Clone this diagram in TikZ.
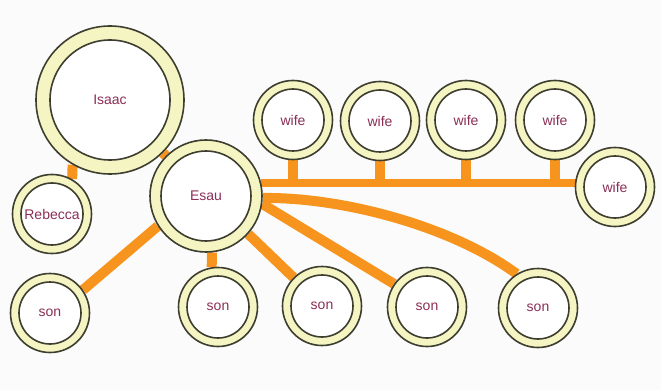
\documentclass[tikz,border=0pt]{standalone}
\usepackage{fontspec}
\setmainfont{Liberation Sans}
\pgfdeclarelayer{paperlayer}
\pgfdeclarelayer{links}
\pgfsetlayers{paperlayer,links,main}
\definecolor{ringfill}{HTML}{F5F5C4}
\definecolor{ringline}{HTML}{3E3E30}
\definecolor{linkorange}{HTML}{F7941D}
\definecolor{namecol}{HTML}{8B2F55}
\definecolor{paper}{HTML}{FBFBFB}
\tikzset{
  % a person: pale ring between two dark circles; #1 outer radius, #2 inner radius
  person/.style 2 args={circle, draw=ringline, line width=1.6pt, fill=ringfill,
    minimum size={2*#1pt}, inner sep=0pt, text=namecol,
    font=\fontsize{14}{16}\selectfont,
    path picture={\draw[ringline, line width=1.6pt, fill=white]
      (path picture bounding box.center) circle[radius=#2pt];}},
  small/.style={person={39.5}{31}},
  link/.style={draw=linkorange, line width=10pt},
  barlink/.style={draw=linkorange, line width=8pt},
}
\begin{document}
\begin{tikzpicture}[x=1pt,y=-1pt]
\begin{pgfonlayer}{paperlayer}
  \fill[paper] (0,0) rectangle (661,390);
\end{pgfonlayer}
\useasboundingbox (0,0) rectangle (661,390);

% people
\node[person={74}{60}] (isaac) at (110,100) {Isaac};
\node[person={56}{45}] (esau) at (206,196) {Esau};
\node[small] (rebecca) at (52,214) {Rebecca};
\node[small] (wife1) at (293,120) {wife};
\node[small] (wife2) at (380,121) {wife};
\node[small] (wife3) at (466,120) {wife};
\node[small] (wife4) at (555,120) {wife};
\node[small] (wife5) at (615,187) {wife};
\node[small] (son1) at (50,313) {son};
\node[small] (son2) at (218,307) {son};
\node[small] (son3) at (322,306) {son};
\node[small] (son4) at (427,307) {son};
\node[small] (son5) at (538,308) {son};

% connectors, kept underneath the rings
\begin{pgfonlayer}{links}
  \draw[link] (isaac.240) -- (rebecca.60);
  \draw[link] (isaac) -- (esau);
  \draw[link] (esau.212) -- (son1.35);
  \draw[link] (esau.-84) -- (son2.99);
  \draw[link] (esau.-42) -- (son3.135);
  \draw[link] (esau.-8) -- (son4.145);
  \draw[link] (esau.-2) .. controls (340,197) and (450,225) .. (son5.122);
  \coordinate (bar) at (esau.13);
  \draw[barlink] (bar) -- (bar -| wife5.center);
  \draw[link] (wife1.center) -- (wife1 |- bar);
  \draw[link] (wife2.center) -- (wife2 |- bar);
  \draw[link] (wife3.center) -- (wife3 |- bar);
  \draw[link] (wife4.center) -- (wife4 |- bar);
\end{pgfonlayer}
\end{tikzpicture}
\end{document}
